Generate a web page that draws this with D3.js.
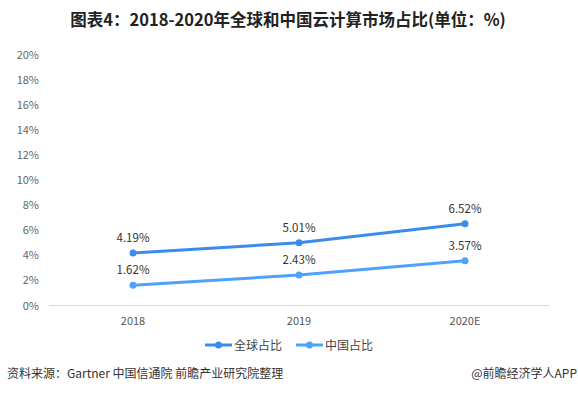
<!DOCTYPE html>
<html>
<head>
<meta charset="utf-8">
<script src="https://cdn.jsdelivr.net/npm/d3@7"></script>
<style>
  body { margin: 0; background: #fff; }
  svg { display: block; font-family: "Noto Sans CJK SC", "Noto Sans", sans-serif; }
</style>
</head>
<body>
<script>
const years = ["2018", "2019", "2020E"];
const globalShare = [4.19, 5.01, 6.52];
const chinaShare = [1.62, 2.43, 3.57];
const yTicks = [0, 2, 4, 6, 8, 10, 12, 14, 16, 18, 20];
const seriesNames = ["全球占比", "中国占比"];
const seriesColors = ["#3a8bec", "#4fa2fb"];

const width = 578, height = 394;
const svg = d3.select("body").append("svg")
    .attr("width", width)
    .attr("height", height);

svg.append("text")
    .attr("x", 288)
    .attr("y", 26)
    .attr("text-anchor", "middle")
    .style("font-size", "16.5px")
    .style("font-weight", "bold")
    .attr("fill", "#222")
    .text("图表4：2018-2020年全球和中国云计算市场占比(单位：%)");

const xScale = d3.scaleBand()
    .domain(years)
    .range([50, 548]);

const yScale = d3.scaleLinear()
    .domain([0, 20])
    .range([305.5, 55]);

// y labels, no axis line
svg.append("g")
    .selectAll("text")
    .data(yTicks)
    .enter()
    .append("text")
    .attr("x", 39)
    .attr("y", d => yScale(d) + 4)
    .attr("text-anchor", "end")
    .style("font-size", "11px")
    .attr("fill", "#666")
    .text(d => d + "%");

// x axis
svg.append("line")
    .attr("x1", 49).attr("x2", 549)
    .attr("y1", yScale(0)).attr("y2", yScale(0))
    .attr("stroke", "#d9d9d9");

svg.append("g")
    .selectAll("text")
    .data(years)
    .enter()
    .append("text")
    .attr("x", d => xScale(d) + xScale.bandwidth() / 2)
    .attr("y", 325)
    .attr("text-anchor", "middle")
    .style("font-size", "11px")
    .attr("fill", "#555")
    .text(d => d);

const line = d3.line()
    .x((d, i) => xScale(years[i]) + xScale.bandwidth() / 2)
    .y(d => yScale(d));

[globalShare, chinaShare].forEach((series, s) => {
    svg.append("path")
        .datum(series)
        .attr("d", line)
        .attr("fill", "none")
        .attr("stroke", seriesColors[s])
        .attr("stroke-width", 3);

    svg.append("g")
        .selectAll("circle")
        .data(series)
        .enter()
        .append("circle")
        .attr("cx", (d, i) => xScale(years[i]) + xScale.bandwidth() / 2)
        .attr("cy", d => yScale(d))
        .attr("r", 3.5)
        .attr("fill", seriesColors[s]);

    svg.append("g")
        .selectAll("text")
        .data(series)
        .enter()
        .append("text")
        .attr("x", (d, i) => xScale(years[i]) + xScale.bandwidth() / 2)
        .attr("y", d => yScale(d) - 11)
        .attr("text-anchor", "middle")
        .style("font-size", "11.5px")
        .attr("fill", "#333")
        .text(d => d.toFixed(2) + "%");
});

// legend
const legendX = [205, 296];
const legend = svg.append("g");
seriesNames.forEach((name, i) => {
    legend.append("line")
        .attr("x1", legendX[i]).attr("x2", legendX[i] + 27)
        .attr("y1", 345).attr("y2", 345)
        .attr("stroke", seriesColors[i])
        .attr("stroke-width", 3);
    legend.append("circle")
        .attr("cx", legendX[i] + 13.5)
        .attr("cy", 345)
        .attr("r", 3.5)
        .attr("fill", seriesColors[i]);
    legend.append("text")
        .attr("x", legendX[i] + 29)
        .attr("y", 349.5)
        .style("font-size", "12px")
        .attr("fill", "#444")
        .text(name);
});

// footer
svg.append("text")
    .attr("x", 7)
    .attr("y", 378)
    .style("font-size", "12px")
    .attr("fill", "#333")
    .text("资料来源：Gartner 中国信通院 前瞻产业研究院整理");

svg.append("text")
    .attr("x", 577)
    .attr("y", 378)
    .attr("text-anchor", "end")
    .style("font-size", "12px")
    .attr("fill", "#333")
    .text("@前瞻经济学人APP");
</script>
</body>
</html>
